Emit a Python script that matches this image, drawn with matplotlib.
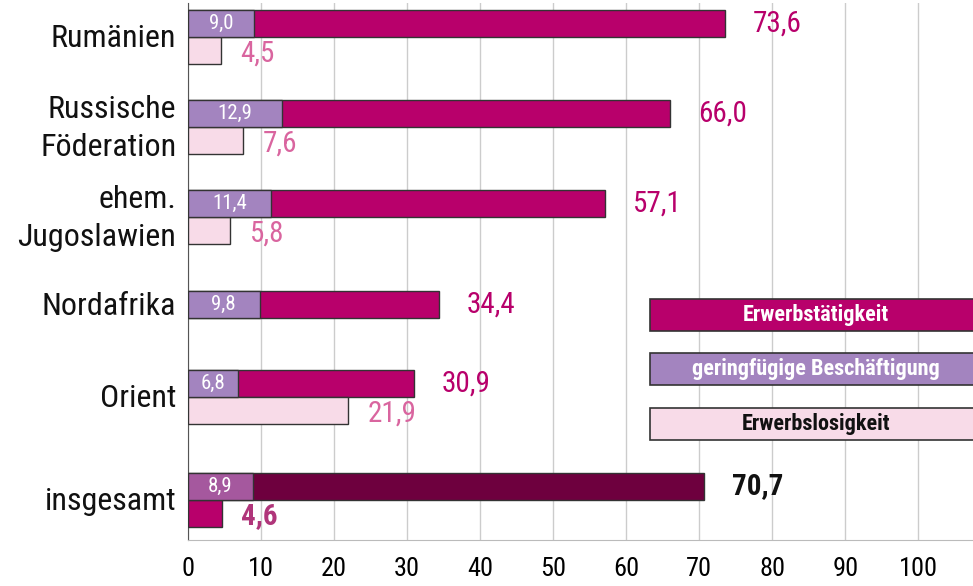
import matplotlib
matplotlib.use('Agg')
import matplotlib.pyplot as plt
from matplotlib.patches import Rectangle

plt.rcParams['font.family'] = ['Roboto Condensed', 'DejaVu Sans']

# data
categories = ['Rumänien', 'Russische\nFöderation', 'ehem.\nJugoslawien', 'Nordafrika', 'Orient', 'insgesamt']
erwerb = [73.6, 66.0, 57.1, 34.4, 30.9, 70.7]
gering = [9.0, 12.9, 11.4, 9.8, 6.8, 8.9]
erwerbslos = [4.5, 7.6, 5.8, None, 21.9, 4.6]
xticks = [0, 10, 20, 30, 40, 50, 60, 70, 80, 90, 100]
legend_labels = ['Erwerbstätigkeit', 'geringfügige Beschäftigung', 'Erwerbslosigkeit']

# layout (group centres)
ypos = [0, 1, 2, 3.12, 4.0, 5.14]
H = 0.30

MAG = '#b8006b'; PUR = '#a384bf'; PINK = '#f8dbe8'
DARK = '#6e003e'; PUR2 = '#a5589e'
LBL_TOP = '#b8006b'; LBL_BOT = '#d9659f'
EDGE = '#333333'

fig = plt.figure(figsize=(9.73, 5.86), dpi=100)
ax = fig.add_axes([188/973, 1-540/586, 1-188/973, 537/586])
ax.set_xlim(0, 107.5)
ax.set_ylim(5.59, -0.378)

for i, cat in enumerate(categories):
    y = ypos[i]
    tot = i == len(categories) - 1
    yt = y - H/2
    ax.barh(yt, erwerb[i], height=H, color=DARK if tot else MAG, edgecolor=EDGE, lw=1, zorder=3)
    ax.barh(yt, gering[i], height=H, color=PUR2 if tot else PUR, edgecolor=EDGE, lw=1, zorder=4)
    ax.text(gering[i]/2, yt, f'{gering[i]:.1f}'.replace('.', ','), color='white',
            ha='center', va='center', fontsize=15, zorder=5)
    ax.text(erwerb[i] + 3.8, yt, f'{erwerb[i]:.1f}'.replace('.', ','),
            color='#111111' if tot else LBL_TOP, fontweight='bold' if tot else 'normal',
            ha='left', va='center', fontsize=21, zorder=5)
    if erwerbslos[i] is not None:
        yb = y + H/2
        ax.barh(yb, erwerbslos[i], height=H, color=MAG if tot else PINK, edgecolor=EDGE, lw=1, zorder=3)
        ax.text(erwerbslos[i] + 2.7, yb + 0.03, f'{erwerbslos[i]:.1f}'.replace('.', ','),
                color='#b0357a' if tot else LBL_BOT, fontweight='bold' if tot else 'normal',
                ha='left', va='center', fontsize=21, zorder=5)
    ly = yt if erwerbslos[i] is None else y
    ax.text(-1.6, ly + 0.02, cat, ha='right', va='center', fontsize=23, color='#111111',
            linespacing=1.4, clip_on=False)

# legend boxes
legend_colors = [MAG, PUR, PINK]
legend_txt = ['white', 'white', '#111111']
legend_y = [3.09, 3.69, 4.30]
for lab, c, tc, ly in zip(legend_labels, legend_colors, legend_txt, legend_y):
    ax.add_patch(Rectangle((63.3, ly - 0.18), 50, 0.36, facecolor=c, edgecolor=EDGE,
                           lw=1.2, zorder=6, clip_on=False))
    ax.text(86, ly, lab, color=tc, fontweight='bold', ha='center', va='center',
            fontsize=16, zorder=7)

ax.set_xticks(xticks)
ax.set_yticks([])
ax.tick_params(axis='x', length=0, pad=12, labelsize=19)
ax.grid(axis='x', color='#cccccc', lw=1, zorder=0)
for s in ['top', 'right']:
    ax.spines[s].set_visible(False)
ax.spines['left'].set_color('#555555')
ax.spines['bottom'].set_color('#bbbbbb')

fig.savefig('out.png', dpi=100)
